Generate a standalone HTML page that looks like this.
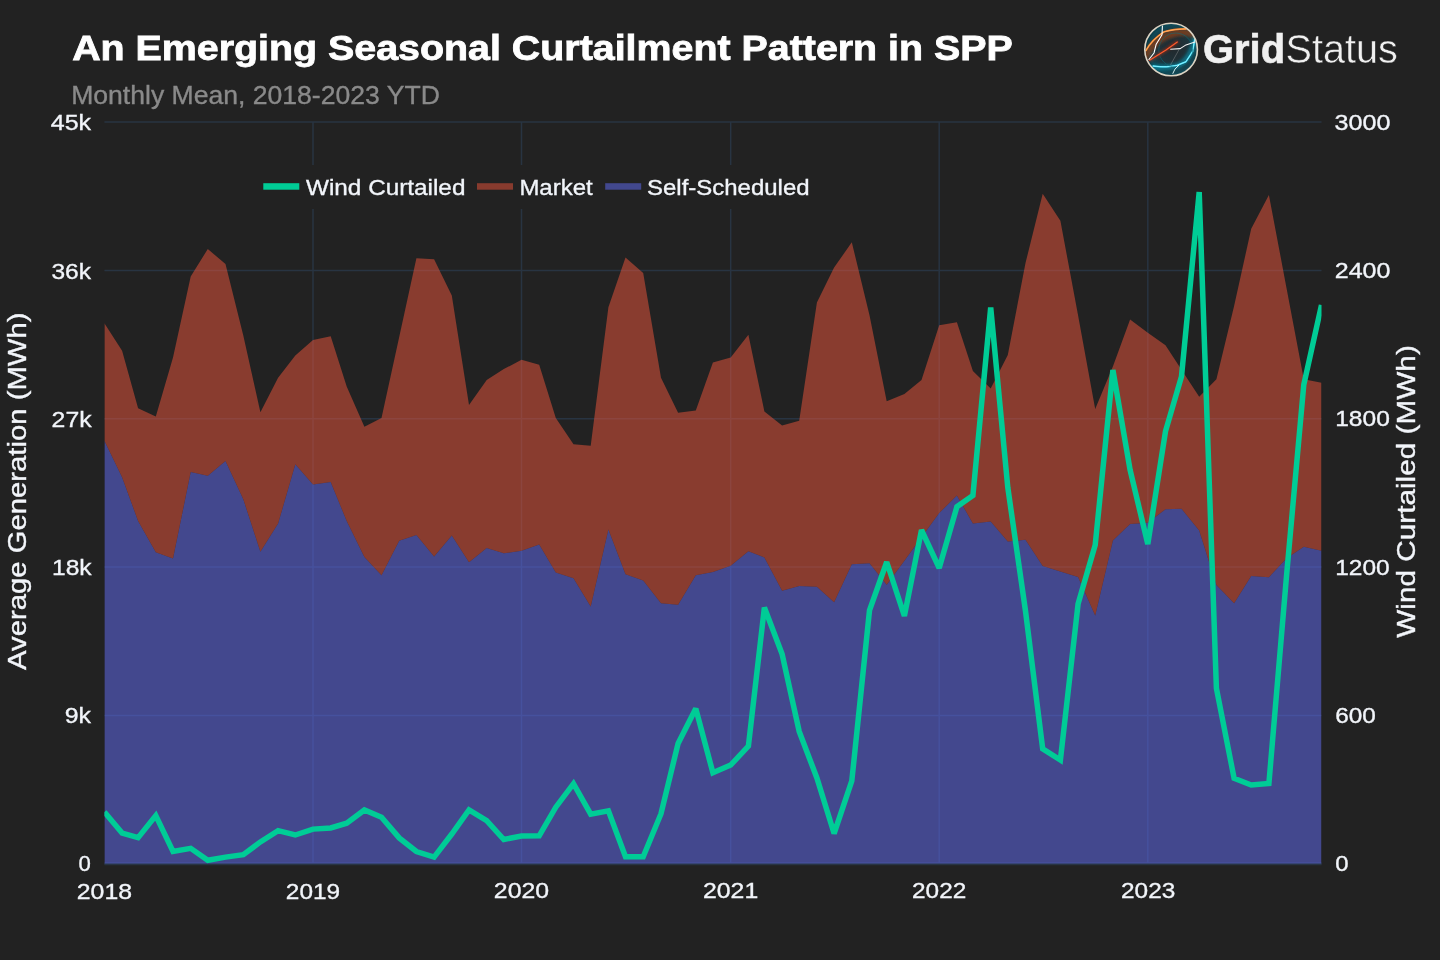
<!DOCTYPE html>
<html><head><meta charset="utf-8"><style>html,body{margin:0;padding:0;background:#222222;overflow:hidden}svg{display:block;will-change:transform}</style></head>
<body><svg width="1440" height="960" viewBox="0 0 1440 960" font-family="&quot;Liberation Sans&quot;, sans-serif"><rect width="1440" height="960" fill="#222222"/><defs><clipPath id="pc"><rect x="104.4" y="120" width="1217.1" height="743.75"/></clipPath><clipPath id="lc"><circle cx="1171" cy="49.5" r="26"/></clipPath><radialGradient id="lg" cx="0.5" cy="0.5" r="0.5"><stop offset="0" stop-color="#1c2a30"/><stop offset="0.6" stop-color="#1e3a44"/><stop offset="1" stop-color="#0b4e5e"/></radialGradient></defs><line x1="104.4" x2="1321.5" y1="122.0" y2="122.0" stroke="#283442" stroke-width="1.5"/><line x1="104.4" x2="1321.5" y1="270.4" y2="270.4" stroke="#283442" stroke-width="1.5"/><line x1="104.4" x2="1321.5" y1="418.7" y2="418.7" stroke="#283442" stroke-width="1.5"/><line x1="104.4" x2="1321.5" y1="567.0" y2="567.0" stroke="#283442" stroke-width="1.5"/><line x1="104.4" x2="1321.5" y1="715.4" y2="715.4" stroke="#283442" stroke-width="1.5"/><line x1="104.4" x2="1321.5" y1="863.8" y2="863.8" stroke="#283442" stroke-width="1.5"/><line x1="313.0" x2="313.0" y1="122" y2="863.5" stroke="#283442" stroke-width="1.5"/><line x1="521.5" x2="521.5" y1="122" y2="863.5" stroke="#283442" stroke-width="1.5"/><line x1="730.7" x2="730.7" y1="122" y2="863.5" stroke="#283442" stroke-width="1.5"/><line x1="939.2" x2="939.2" y1="122" y2="863.5" stroke="#283442" stroke-width="1.5"/><line x1="1147.8" x2="1147.8" y1="122" y2="863.5" stroke="#283442" stroke-width="1.5"/><line x1="104.4" x2="1321.5" y1="863.75" y2="863.75" stroke="#283442" stroke-width="3"/><rect x="255" y="165" width="560" height="44" fill="#222222"/><g clip-path="url(#pc)"><polygon points="104.4,863.75 104.4,440.8 122.1,477.3 138.1,521.0 155.8,552.3 173.0,558.5 190.7,472.1 207.8,475.8 225.5,461.0 243.3,499.2 260.4,551.7 278.1,523.5 295.3,464.2 313.0,484.4 330.7,482.1 346.7,521.0 364.4,557.1 381.5,575.2 399.2,540.8 416.4,535.0 434.1,556.5 451.8,535.6 469.0,562.3 486.7,548.1 503.8,553.3 521.5,550.8 539.2,544.6 555.8,572.5 573.5,578.3 590.7,606.5 608.4,529.4 625.5,574.2 643.2,580.4 661.0,603.3 678.1,604.8 695.8,575.2 712.9,572.1 730.7,565.8 748.4,551.3 764.4,557.5 782.1,590.8 799.2,586.0 816.9,586.7 834.1,602.3 851.8,564.2 869.5,563.2 886.7,584.7 904.4,560.8 921.5,537.3 939.2,513.0 956.9,495.5 972.9,523.4 990.7,521.5 1007.8,541.5 1025.5,539.7 1042.7,565.9 1060.4,571.5 1078.1,577.1 1095.2,615.6 1112.9,540.6 1130.1,524.1 1147.8,522.7 1165.5,509.2 1181.5,508.8 1199.2,530.5 1216.4,585.0 1234.1,603.3 1251.2,576.0 1268.9,577.3 1286.6,558.3 1303.8,546.7 1321.5,550.7 1321.5,863.75" fill="rgba(99,110,250,0.5)"/><polygon points="104.4,323.3 122.1,350.7 138.1,408.2 155.8,416.6 173.0,357.4 190.7,276.4 207.8,249.0 225.5,264.1 243.3,335.6 260.4,412.2 278.1,377.8 295.3,355.4 313.0,339.9 330.7,336.2 346.7,386.6 364.4,426.8 381.5,418.1 399.2,337.0 416.4,258.3 434.1,259.2 451.8,295.6 469.0,405.0 486.7,379.9 503.8,369.1 521.5,359.8 539.2,364.7 555.8,418.1 573.5,444.3 590.7,445.8 608.4,307.3 625.5,257.4 643.2,272.9 661.0,377.8 678.1,412.8 695.8,410.5 712.9,362.4 730.7,357.4 748.4,334.7 764.4,411.4 782.1,425.4 799.2,420.7 816.9,302.6 834.1,267.6 851.8,242.3 869.5,315.2 886.7,401.2 904.4,393.9 921.5,379.9 939.2,325.3 956.9,322.3 972.9,371.0 990.7,388.5 1007.8,354.9 1025.5,263.1 1042.7,193.7 1060.4,220.8 1078.1,315.6 1095.2,408.9 1112.9,366.6 1130.1,319.4 1147.8,332.7 1165.5,345.3 1181.5,369.7 1199.2,396.8 1216.4,379.2 1234.1,306.0 1251.2,228.8 1268.9,194.9 1286.6,288.4 1303.8,379.2 1321.5,382.7 1321.5,550.7 1303.8,546.7 1286.6,558.3 1268.9,577.3 1251.2,576.0 1234.1,603.3 1216.4,585.0 1199.2,530.5 1181.5,508.8 1165.5,509.2 1147.8,522.7 1130.1,524.1 1112.9,540.6 1095.2,615.6 1078.1,577.1 1060.4,571.5 1042.7,565.9 1025.5,539.7 1007.8,541.5 990.7,521.5 972.9,523.4 956.9,495.5 939.2,513.0 921.5,537.3 904.4,560.8 886.7,584.7 869.5,563.2 851.8,564.2 834.1,602.3 816.9,586.7 799.2,586.0 782.1,590.8 764.4,557.5 748.4,551.3 730.7,565.8 712.9,572.1 695.8,575.2 678.1,604.8 661.0,603.3 643.2,580.4 625.5,574.2 608.4,529.4 590.7,606.5 573.5,578.3 555.8,572.5 539.2,544.6 521.5,550.8 503.8,553.3 486.7,548.1 469.0,562.3 451.8,535.6 434.1,556.5 416.4,535.0 399.2,540.8 381.5,575.2 364.4,557.1 346.7,521.0 330.7,482.1 313.0,484.4 295.3,464.2 278.1,523.5 260.4,551.7 243.3,499.2 225.5,461.0 207.8,475.8 190.7,472.1 173.0,558.5 155.8,552.3 138.1,521.0 122.1,477.3 104.4,440.8" fill="rgba(239,85,59,0.5)"/><polyline points="104.4,812.0 122.1,833.1 138.1,837.6 155.8,815.6 173.0,851.5 190.7,848.3 207.8,860.3 225.5,857.1 243.3,854.7 260.4,841.9 278.1,830.7 295.3,835.0 313.0,829.1 330.7,828.0 346.7,823.2 364.4,810.0 381.5,817.2 399.2,837.9 416.4,851.5 434.1,857.1 451.8,834.0 469.0,810.0 486.7,820.7 503.8,839.5 521.5,836.0 539.2,835.8 555.8,807.2 573.5,783.7 590.7,814.1 608.4,810.9 625.5,856.8 643.2,856.8 661.0,813.7 678.1,743.4 695.8,708.6 712.9,772.8 730.7,765.0 748.4,746.0 764.4,607.5 782.1,654.1 799.2,731.4 816.9,778.0 834.1,833.5 851.8,781.0 869.5,610.4 886.7,562.0 904.4,616.0 921.5,530.0 939.2,568.0 956.9,506.8 972.9,495.5 990.7,307.5 1007.8,487.5 1025.5,611.0 1042.7,748.8 1060.4,760.0 1078.1,603.8 1095.2,545.0 1112.9,370.0 1130.1,470.0 1147.8,544.0 1165.5,431.3 1181.5,376.4 1199.2,192.0 1216.4,688.3 1234.1,778.3 1251.2,785.0 1268.9,783.5 1286.6,575.0 1303.8,384.6 1321.5,305.0" fill="none" stroke="#00cc96" stroke-width="5.5" stroke-linejoin="miter" stroke-miterlimit="2"/></g><rect x="263.3" y="183.2" width="36" height="6.5" fill="#00cc96"/><rect x="477" y="183.2" width="36" height="6.5" fill="rgb(136,59,46)"/><rect x="605.2" y="183.2" width="36" height="6.5" fill="rgb(66,72,142)"/><text x="72.20" y="60.30" font-size="35" font-weight="bold" fill="#ffffff" stroke="#ffffff" stroke-width="0.8" textLength="940.60" lengthAdjust="spacingAndGlyphs">An Emerging Seasonal Curtailment Pattern in SPP</text><text x="71.20" y="104.00" font-size="25" fill="#8a8a8a" stroke="#8a8a8a" stroke-width="0.35" textLength="368.63" lengthAdjust="spacingAndGlyphs">Monthly Mean, 2018-2023 YTD</text><text x="306.00" y="194.90" font-size="22.5" fill="#f2f5fa" stroke="#f2f5fa" stroke-width="0.35" textLength="159.40" lengthAdjust="spacingAndGlyphs">Wind Curtailed</text><text x="519.40" y="194.90" font-size="22.5" fill="#f2f5fa" stroke="#f2f5fa" stroke-width="0.35" textLength="73.22" lengthAdjust="spacingAndGlyphs">Market</text><text x="647.00" y="194.90" font-size="22.5" fill="#f2f5fa" stroke="#f2f5fa" stroke-width="0.35" textLength="162.62" lengthAdjust="spacingAndGlyphs">Self-Scheduled</text><text x="78.60" y="871.40" font-size="22" fill="#f2f5fa" stroke="#f2f5fa" stroke-width="0.35" textLength="12.34" lengthAdjust="spacingAndGlyphs">0</text><text x="64.80" y="723.10" font-size="22" fill="#f2f5fa" stroke="#f2f5fa" stroke-width="0.35" textLength="26.26" lengthAdjust="spacingAndGlyphs">9k</text><text x="52.00" y="575.30" font-size="22" fill="#f2f5fa" stroke="#f2f5fa" stroke-width="0.35" textLength="39.67" lengthAdjust="spacingAndGlyphs">18k</text><text x="51.60" y="426.50" font-size="22" fill="#f2f5fa" stroke="#f2f5fa" stroke-width="0.35" textLength="40.00" lengthAdjust="spacingAndGlyphs">27k</text><text x="51.40" y="278.70" font-size="22" fill="#f2f5fa" stroke="#f2f5fa" stroke-width="0.35" textLength="39.62" lengthAdjust="spacingAndGlyphs">36k</text><text x="50.80" y="129.90" font-size="22" fill="#f2f5fa" stroke="#f2f5fa" stroke-width="0.35" textLength="40.25" lengthAdjust="spacingAndGlyphs">45k</text><text x="1335.20" y="871.40" font-size="22" fill="#f2f5fa" stroke="#f2f5fa" stroke-width="0.35" textLength="13.30" lengthAdjust="spacingAndGlyphs">0</text><text x="1335.20" y="723.10" font-size="22" fill="#f2f5fa" stroke="#f2f5fa" stroke-width="0.35" textLength="40.63" lengthAdjust="spacingAndGlyphs">600</text><text x="1335.20" y="574.80" font-size="22" fill="#f2f5fa" stroke="#f2f5fa" stroke-width="0.35" textLength="54.48" lengthAdjust="spacingAndGlyphs">1200</text><text x="1335.20" y="426.00" font-size="22" fill="#f2f5fa" stroke="#f2f5fa" stroke-width="0.35" textLength="54.66" lengthAdjust="spacingAndGlyphs">1800</text><text x="1334.80" y="278.20" font-size="22" fill="#f2f5fa" stroke="#f2f5fa" stroke-width="0.35" textLength="55.65" lengthAdjust="spacingAndGlyphs">2400</text><text x="1334.60" y="129.90" font-size="22" fill="#f2f5fa" stroke="#f2f5fa" stroke-width="0.35" textLength="55.90" lengthAdjust="spacingAndGlyphs">3000</text><text x="76.80" y="898.65" font-size="22" fill="#f2f5fa" stroke="#f2f5fa" stroke-width="0.35" textLength="55.22" lengthAdjust="spacingAndGlyphs">2018</text><text x="285.83" y="898.65" font-size="22" fill="#f2f5fa" stroke="#f2f5fa" stroke-width="0.35" textLength="54.24" lengthAdjust="spacingAndGlyphs">2019</text><text x="493.85" y="898.15" font-size="22" fill="#f2f5fa" stroke="#f2f5fa" stroke-width="0.35" textLength="55.22" lengthAdjust="spacingAndGlyphs">2020</text><text x="703.02" y="898.15" font-size="22" fill="#f2f5fa" stroke="#f2f5fa" stroke-width="0.35" textLength="55.22" lengthAdjust="spacingAndGlyphs">2021</text><text x="912.04" y="898.15" font-size="22" fill="#f2f5fa" stroke="#f2f5fa" stroke-width="0.35" textLength="54.22" lengthAdjust="spacingAndGlyphs">2022</text><text x="1121.07" y="898.15" font-size="22" fill="#f2f5fa" stroke="#f2f5fa" stroke-width="0.35" textLength="54.24" lengthAdjust="spacingAndGlyphs">2023</text><text x="1203.00" y="63.00" font-size="41" font-weight="bold" fill="#f0f0f0" stroke="#f0f0f0" stroke-width="0.6" textLength="82.13" lengthAdjust="spacingAndGlyphs">Grid</text><text x="1285.60" y="63.00" font-size="41" fill="#f0f0f0" stroke="#222222" stroke-width="0.5" textLength="112.26" lengthAdjust="spacingAndGlyphs">Status</text><text transform="translate(25.50,491.25) rotate(-90)" font-size="25" fill="#f2f5fa" stroke="#f2f5fa" stroke-width="0.35" text-anchor="middle" textLength="357.51" lengthAdjust="spacingAndGlyphs">Average Generation (MWh)</text><text transform="translate(1415.25,491.50) rotate(-90)" font-size="25" fill="#f2f5fa" stroke="#f2f5fa" stroke-width="0.35" text-anchor="middle" textLength="292.62" lengthAdjust="spacingAndGlyphs">Wind Curtailed (MWh)</text><defs><radialGradient id="lg2" cx="0.55" cy="0.5" r="0.55"><stop offset="0" stop-color="#222a2e"/><stop offset="0.55" stop-color="#1f333b"/><stop offset="0.85" stop-color="#0f4a58"/><stop offset="1" stop-color="#06303a"/></radialGradient><filter id="gl" x="-50%" y="-50%" width="200%" height="200%"><feGaussianBlur stdDeviation="1.6"/></filter><filter id="gl2" x="-50%" y="-50%" width="200%" height="200%"><feGaussianBlur stdDeviation="0.6"/></filter></defs><g><circle cx="1171.1" cy="49.5" r="26.5" fill="url(#lg2)"/><g clip-path="url(#lc)" fill="none" stroke-linecap="round" stroke-linejoin="round"><path d="M1146,56 C1152,44 1162,36 1176,33 C1186,31 1192,33 1197,37" stroke="#8a3d12" stroke-width="7" opacity="0.75" filter="url(#gl)"/><path d="M1145.9,50.7 C1150,43 1156,37 1164.2,31.8 C1172,29.5 1180,29 1186,28.9" stroke="#ff8a2a" stroke-width="1.6" filter="url(#gl2)"/><path d="M1145.9,50.7 C1150,43 1156,37 1164.2,31.8 C1172,29.5 1180,29 1186,28.9" stroke="#ffb070" stroke-width="0.8"/><path d="M1150,68 C1158,67 1168,68 1177,66 C1186,62 1192,54 1195,39" stroke="#0a7a90" stroke-width="6" opacity="0.8" filter="url(#gl)"/><path d="M1153.2,66 C1158,66.5 1162,67 1166.4,66.8 C1171,66.5 1174,66 1177.3,65.3 L1186,61.7 L1192.6,51.5 L1194.8,39" stroke="#3be3ff" stroke-width="1.5" filter="url(#gl2)"/><path d="M1153.2,66 C1158,66.5 1162,67 1166.4,66.8 C1171,66.5 1174,66 1177.3,65.3 L1186,61.7 L1192.6,51.5 L1194.8,39" stroke="#a8f4ff" stroke-width="0.7"/><circle cx="1175.8" cy="50" r="17" stroke="#0e6a7a" stroke-width="1" opacity="0.6"/><path d="M1149.6,60.2 L1158,55 L1166,50 L1177.3,42" stroke="#c02a10" stroke-width="3" opacity="0.6" filter="url(#gl)"/><path d="M1149.6,60.2 L1158,55 L1166,50 L1177.3,42" stroke="#ff5a2a" stroke-width="1.2"/><path d="M1162.4,26 L1162,34.7 L1156.2,44.2 L1154,53 L1148.9,59.5" stroke="#ffffff" stroke-width="1.1"/><path d="M1170.7,49.3 L1180.2,48.6 L1186,44.9 L1194.8,42" stroke="#f2f2f2" stroke-width="1.1"/><path d="M1178.8,50 L1170.7,64.6" stroke="#b0b0b0" stroke-width="0.5" opacity="0.7"/><path d="M1172.9,73.4 L1175,69 L1178.8,65.3" stroke="#e8ffff" stroke-width="0.9"/></g><circle cx="1171.1" cy="49.5" r="26.3" fill="none" stroke="#dcd3c3" stroke-width="1.6"/></g></svg></body></html>
